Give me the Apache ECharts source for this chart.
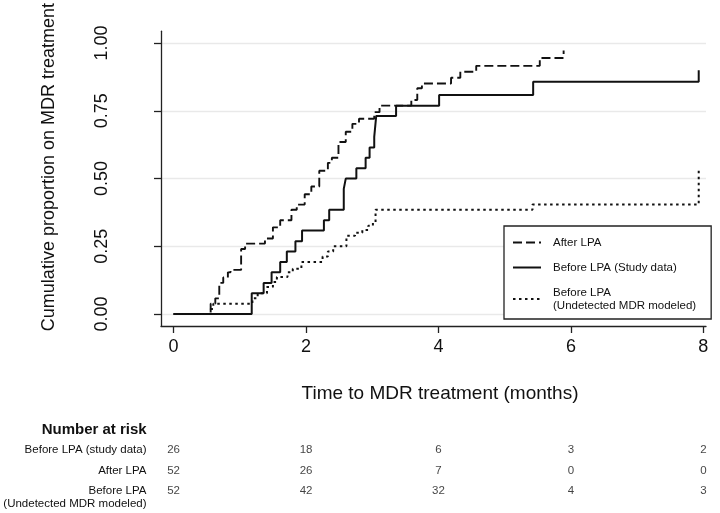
<!DOCTYPE html>
<html>
<head>
<meta charset="utf-8">
<script src="https://cdn.jsdelivr.net/npm/echarts@6/dist/echarts.min.js"></script>
<style>html,body{margin:0;padding:0;background:#fff;}#c{width:720px;height:513px;}</style>
</head>
<body>
<div id="c"></div>
<script>
// ---- Data ----
const afterT = [0, 0.56, 0.63, 0.69, 0.75, 0.82, 0.86, 1.02, 1.08, 1.38, 1.50, 1.61, 1.78, 1.86, 1.98, 2.08, 2.20, 2.33, 2.39, 2.49, 2.60, 2.70, 2.80, 3.03, 3.11, 3.59, 3.68, 3.75, 4.19, 4.33, 4.57, 5.53, 5.89];
const afterP = [0, 0.038, 0.058, 0.115, 0.135, 0.154, 0.163, 0.240, 0.260, 0.279, 0.320, 0.346, 0.385, 0.404, 0.442, 0.471, 0.529, 0.558, 0.577, 0.635, 0.673, 0.702, 0.721, 0.745, 0.769, 0.790, 0.833, 0.851, 0.872, 0.894, 0.916, 0.945, 0.973];

const studyT = [0, 1.18, 1.36, 1.48, 1.61, 1.71, 1.84, 1.94, 2.27, 2.35, 2.57, 2.60, 2.76, 2.90, 2.96, 3.03, 3.06, 3.36, 4.01, 5.43, 7.93];
const studyP = [0, 0.077, 0.115, 0.154, 0.192, 0.231, 0.269, 0.308, 0.346, 0.385, 0.462, 0.500, 0.538, 0.577, 0.615, 0.654, 0.731, 0.769, 0.808, 0.857, 0.900];

const modelT = [0, 0.56, 0.60, 1.19, 1.27, 1.41, 1.50, 1.56, 1.72, 1.80, 1.93, 2.25, 2.33, 2.41, 2.61, 2.74, 2.85, 2.94, 3.01, 3.05, 5.42, 7.93];
const modelP = [0, 0.019, 0.038, 0.058, 0.077, 0.100, 0.118, 0.137, 0.154, 0.167, 0.192, 0.212, 0.231, 0.250, 0.289, 0.300, 0.310, 0.326, 0.338, 0.385, 0.404, 0.540];

const seriesNames = ['After LPA', 'Before LPA (Study data)', 'Before LPA\n(Undetected MDR modeled)'];

const yTicks = [0, 0.25, 0.5, 0.75, 1];
const xTicks = [0, 2, 4, 6, 8];

const riskTimes = [0, 2, 4, 6, 8];
const riskRows = ['Before LPA (study data)', 'After LPA', 'Before LPA\n(Undetected MDR modeled)'];
const riskStudy = [26, 18, 6, 3, 2];
const riskAfter = [52, 26, 7, 0, 0];
const riskModeled = [52, 42, 32, 4, 3];

// ---- Build ----
const pairs = (t, p) => t.map((v, i) => [v, p[i]]);
const riskCounts = [riskStudy, riskAfter, riskModeled];
const riskData = [];
riskCounts.forEach((arr, r) => arr.forEach((n, i) => riskData.push([riskTimes[i], riskRows[r], n])));

const FONT = 'Liberation Sans, Arial, sans-serif';
const INK = '#111';
const XMIN = -0.19, XMAX = 8.04;

const chart = echarts.init(document.getElementById('c'), null, {renderer: 'canvas'});
const lineSeries = (name, data, type, width) => ({
  name, type: 'line', step: 'end', data, xAxisIndex: 0, yAxisIndex: 0,
  symbol: 'none', showSymbol: false, silent: true,
  lineStyle: {color: '#111', width, type},
  itemStyle: {color: '#111'},
  z: 3
});

chart.setOption({
  animation: false,
  backgroundColor: '#fff',
  textStyle: {fontFamily: FONT, color: INK},
  grid: [
    {left: 161, right: 14, top: 29, bottom: 187, containLabel: false},
    {left: 161, right: 14, top: 433, bottom: 18, containLabel: false}
  ],
  xAxis: [
    {
      type: 'value', gridIndex: 0, min: XMIN, max: XMAX,
      axisLine: {show: true, onZero: false, lineStyle: {color: '#222', width: 1.3}},
      axisTick: {show: true, customValues: xTicks, length: 7, lineStyle: {color: '#222', width: 1.3}},
      axisLabel: {customValues: xTicks, fontSize: 18, color: INK, margin: 12, fontFamily: FONT},
      splitLine: {show: false},
      name: 'Time to MDR treatment (months)', nameLocation: 'middle', nameGap: 58,
      nameTextStyle: {fontSize: 19, color: INK, fontFamily: FONT, padding: [0, 0, 0, 13]}
    },
    {
      type: 'value', gridIndex: 1, min: XMIN, max: XMAX, show: false
    }
  ],
  yAxis: [
    {
      type: 'value', gridIndex: 0, min: -0.044, max: 1.044,
      axisLine: {show: true, onZero: false, lineStyle: {color: '#222', width: 1.3}},
      axisTick: {show: true, customValues: yTicks, length: 7, lineStyle: {color: '#222', width: 1.3}},
      axisLabel: {customValues: yTicks, formatter: v => v.toFixed(2), rotate: 90, margin: 50, fontSize: 18, color: INK, fontFamily: FONT},
      splitLine: {show: true, lineStyle: {color: '#e9e9e9', width: 1.3}},
      name: 'Cumulative proportion on MDR treatment', nameLocation: 'middle', nameGap: 103,
      nameTextStyle: {fontSize: 18, color: INK, fontFamily: FONT, padding: [0, 0, 0, 23]}
    },
    {
      type: 'category', gridIndex: 1, data: riskRows, inverse: true,
      axisLine: {show: false}, axisTick: {show: false}, splitLine: {show: false},
      axisLabel: {fontSize: 11.5, lineHeight: 13, verticalAlign: 'top', margin: 14.5, color: INK, fontFamily: FONT}
    }
  ],
  legend: {
    data: seriesNames, orient: 'vertical', left: 504, top: 226,
    padding: [10, 15, 7, 8], itemGap: 12, itemWidth: 28, itemHeight: 14,
    borderColor: '#222', borderWidth: 1.3, borderRadius: 0, backgroundColor: '#fff',
    itemStyle: {color: 'rgba(0,0,0,0)', borderColor: 'rgba(0,0,0,0)', borderWidth: 0, opacity: 0},
    textStyle: {fontSize: 11.5, lineHeight: 13, color: INK, fontFamily: FONT, padding: [0, 0, 0, 7]},
    selectedMode: false
  },
  graphic: [
    {type: 'text', x: 146.7, y: 430, style: {text: 'Number at risk', font: 'bold 15px ' + FONT, fill: INK, textAlign: 'right', textVerticalAlign: 'middle'}}
  ],
  series: [
    lineSeries(seriesNames[0], pairs(afterT, afterP), [9, 4], 1.9),
    lineSeries(seriesNames[1], pairs(studyT, studyP), 'solid', 2),
    lineSeries(seriesNames[2], pairs(modelT, modelP), [2.5, 3.5], 2),
    {
      type: 'scatter', xAxisIndex: 1, yAxisIndex: 1, data: riskData,
      symbolSize: 1, itemStyle: {color: 'rgba(0,0,0,0)'}, silent: true,
      label: {show: true, position: 'inside', formatter: p => String(p.value[2]), fontSize: 11.5, lineHeight: 13, verticalAlign: 'top', color: INK, fontFamily: FONT}
    }
  ]
});
</script>
</body>
</html>
